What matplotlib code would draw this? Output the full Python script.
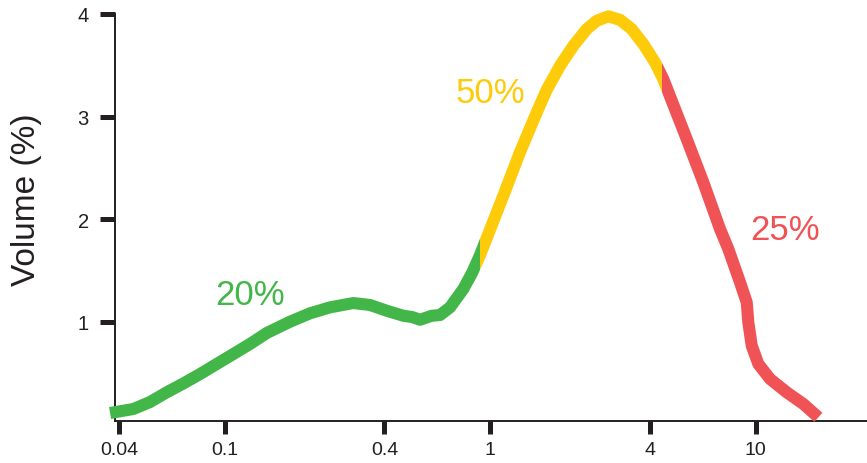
import matplotlib
matplotlib.use("Agg")
import matplotlib.pyplot as plt
from matplotlib.patches import Rectangle
import matplotlib.transforms as mtransforms

plt.rcParams['font.family'] = ['Liberation Sans', 'DejaVu Sans']

# Particle size (log axis) and volume (%)
size = [0.03707, 0.04535, 0.05242, 0.0606, 0.06998, 0.08087, 0.09346, 0.1079,
        0.1247, 0.1442, 0.1764, 0.2099, 0.2495, 0.3054, 0.3530, 0.4080,
        0.4712, 0.5081, 0.5445, 0.6027, 0.6477, 0.7063, 0.7925, 0.8548,
        0.9162, 1.121, 1.296, 1.498, 1.633, 1.833, 2.057, 2.311, 2.520,
        2.786, 3.084, 3.413, 3.774, 4.177, 4.488, 5.498, 6.349, 7.337,
        7.885, 8.728, 9.250, 9.378, 9.659, 10.23, 11.32, 13.08, 15.11, 17.21]
volume = [0.110, 0.149, 0.217, 0.312, 0.398, 0.490, 0.588, 0.685,
          0.783, 0.890, 1.000, 1.082, 1.140, 1.182, 1.163, 1.107,
          1.058, 1.046, 1.019, 1.058, 1.065, 1.140, 1.319, 1.475,
          1.650, 2.228, 2.654, 3.041, 3.261, 3.495, 3.690, 3.853, 3.934,
          3.977, 3.943, 3.853, 3.707, 3.528, 3.365, 2.781, 2.359, 1.904,
          1.709, 1.384, 1.189, 0.994, 0.766, 0.588, 0.442, 0.312, 0.198, 0.068]

# segment boundaries (x) and colours
bounds = [0.01, 0.9162, 4.427, 100]
seg_colors = ['#43b649', '#fecb0a', '#ef5356']
seg_labels = ['20%', '50%', '25%']
label_x = [0.1247, 1.0, 12.9]
label_y = [1.27, 3.23, 1.90]

xticks = [0.04, 0.1, 0.4, 1, 4, 10]
xticklabels = ['0.04', '0.1', '0.4', '1', '4', '10']
yticks = [1, 2, 3, 4]

fig = plt.figure(figsize=(8.67, 4.64), dpi=100)
ax = fig.add_axes([115/867, 42/464, 1 - 115/867, (449 - 42)/464])
ax.set_xscale('log')
ax.set_xlim(0.03869, 26.24)
ax.set_ylim(0.032, 4.0)

trans = mtransforms.blended_transform_factory(ax.transData, ax.transAxes)
for i, c in enumerate(seg_colors):
    line, = ax.plot(size, volume, color=c, lw=8.7, solid_capstyle='butt',
                    solid_joinstyle='round', clip_on=True, zorder=3)
    rect = Rectangle((bounds[i], -0.5), bounds[i+1] - bounds[i], 2.0,
                     transform=trans, facecolor='none', edgecolor='none')
    ax.add_patch(rect)
    line.set_clip_path(rect)
    ax.text(label_x[i], label_y[i], seg_labels[i], color=c, fontsize=25,
            ha='center', va='center')

for s in ['top', 'right']:
    ax.spines[s].set_visible(False)
for s in ['left', 'bottom']:
    ax.spines[s].set_linewidth(1.4)
    ax.spines[s].set_color('#231f20')

ax.set_xticks(xticks)
ax.set_xticklabels(xticklabels)
ax.minorticks_off()
ax.set_yticks(yticks)
ax.tick_params(axis='y', direction='out', length=10.8, width=3.6,
               color='#231f20', labelsize=14.5, labelcolor='#231f20', pad=8)
ax.tick_params(axis='x', direction='out', length=9.4, width=3.6,
               color='#231f20', labelsize=14, labelcolor='#231f20', pad=5)

fig.text(27/867, 1 - 200/464, 'Volume (%)', rotation=90, ha='center',
         va='center', fontsize=24, color='#231f20')

fig.savefig('out.png', dpi=100)
